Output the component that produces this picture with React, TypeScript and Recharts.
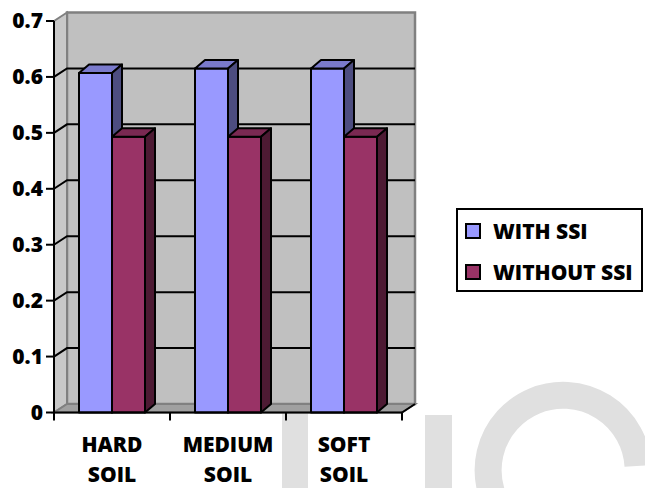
import React from 'react'
import { BarChart, Bar, XAxis, YAxis, CartesianGrid, Legend } from 'recharts'

const CATEGORIES = ['HARD SOIL', 'MEDIUM SOIL', 'SOFT SOIL']
const WITH_SSI = [0.607, 0.615, 0.615]
const WITHOUT_SSI = [0.493, 0.493, 0.493]
const Y_TICKS = [0, 0.1, 0.2, 0.3, 0.4, 0.5, 0.6, 0.7]

const data = CATEGORIES.map((name, i) => ({
  name,
  withSsi: WITH_SSI[i],
  withoutSsi: WITHOUT_SSI[i],
}))

// frame of the 3d box (page pixels)
const W = 645
const H = 488
const PLOT_L = 54
const PLOT_R = 402
const PLOT_T = 21
const PLOT_B = 412.5
const WALL_DX = 13
const WALL_DY = 8.5
const BAR_DX = 10
const BAR_DY = 8.5
const BAND = (PLOT_R - PLOT_L) / CATEGORIES.length
const FONT = "'Open Sans', sans-serif"
const WEIGHT = 800

const Y_AXIS_W = PLOT_L
const X_AXIS_H = 70

const BLUE = { front: '#9999FF', top: '#7A7ACC', side: '#4D4D80' }
const PLUM = { front: '#993366', top: '#7A2952', side: '#4D1A33' }

const box3d = (c: typeof BLUE) => (props: any) => {
  const { x, y, width: w, height: h } = props
  if (!w || !h) return <g />
  const pts = (arr: number[][]) => arr.map((p) => p.join(',')).join(' ')
  return (
    <g stroke="#000" strokeWidth={2} strokeLinejoin="round">
      <rect x={x} y={y} width={w} height={h} fill={c.front} />
      <polygon
        fill={c.top}
        points={pts([[x, y], [x + BAR_DX, y - BAR_DY], [x + w + BAR_DX, y - BAR_DY], [x + w, y]])}
      />
      <polygon
        fill={c.side}
        points={pts([[x + w, y], [x + w + BAR_DX, y - BAR_DY], [x + w + BAR_DX, y + h - BAR_DY], [x + w, y + h]])}
      />
    </g>
  )
}

// grid lines run up the side wall and across the back wall
const gridLine = (p: any) => {
  const { x1, x2, y1, index } = p
  if (Math.abs(y1 - PLOT_T) < 1 || Math.abs(y1 - PLOT_B) < 1) return <g key={`g${index}`} />
  return (
    <polyline
      key={`g${index}`}
      points={`${x1},${y1} ${x1 + WALL_DX},${y1 - WALL_DY} ${x2 + WALL_DX},${y1 - WALL_DY}`}
      fill="none"
      stroke="#000"
      strokeWidth={2}
    />
  )
}

const XTick = (props: any) => {
  const { x, y, payload, index } = props
  const axisY = y - 8
  const words = String(payload.value).split(' ')
  const left = x - BAND / 2
  return (
    <g>
      <line x1={left} y1={axisY} x2={left} y2={axisY + 8} stroke="#000" strokeWidth={2} />
      {index === CATEGORIES.length - 1 && (
        <line x1={left + BAND} y1={axisY} x2={left + BAND} y2={axisY + 8} stroke="#000" strokeWidth={2} />
      )}
      {words.map((wd, i) => (
        <text
          key={wd}
          x={x}
          y={axisY + 39 + i * 30}
          textAnchor="middle"
          fontSize={21}
          fontWeight={WEIGHT}
          fontFamily={FONT}
          fill="#000"
        >
          {wd}
        </text>
      ))}
    </g>
  )
}

const LegendBox = ({ payload }: any) => (
  <div
    style={{
      width: 187,
      height: 84,
      boxSizing: 'border-box',
      border: '2px solid #000',
      background: '#fff',
      padding: '13px 0 0 7px',
      fontFamily: FONT,
      fontWeight: WEIGHT,
      fontSize: 21,
      lineHeight: '16px',
    }}
  >
    {(payload || []).map((item: any) => (
      <div key={item.value} style={{ display: 'flex', alignItems: 'center', height: 16, marginBottom: 25 }}>
        <span
          style={{
            width: 16,
            height: 16,
            boxSizing: 'border-box',
            border: '2px solid #000',
            background: item.color,
            marginRight: 12,
          }}
        />
        <span>{item.value}</span>
      </div>
    ))}
  </div>
)

const Backdrop = () => {
  const wallL = PLOT_L + WALL_DX
  const wallR = PLOT_R + WALL_DX
  const wallT = PLOT_T - WALL_DY
  const wallB = PLOT_B - WALL_DY
  return (
    <svg width={W} height={H} style={{ position: 'absolute', left: 0, top: 0 }}>
      {/* faint watermark shapes */}
      <rect x={282} y={413} width={26} height={80} fill="#E0E0E0" />
      <rect x={425} y={415} width={27} height={80} fill="#E0E0E0" />
      <path d="M 638 466 A 75 75 0 1 0 507 520" fill="none" stroke="#E0E0E0" strokeWidth={27} />
      {/* back wall */}
      <rect x={wallL} y={wallT} width={wallR - wallL} height={wallB - wallT} fill="#C0C0C0" stroke="#808080" strokeWidth={2.5} />
      {/* side wall */}
      <polygon
        points={`${PLOT_L},${PLOT_T} ${wallL},${wallT} ${wallL},${wallB} ${PLOT_L},${PLOT_B}`}
        fill="#C8C8C8"
        stroke="#808080"
        strokeWidth={2}
      />
      {/* floor */}
      <polygon
        points={`${PLOT_L},${PLOT_B} ${PLOT_R},${PLOT_B} ${wallR},${wallB} ${wallL},${wallB}`}
        fill="#A0A0A0"
        stroke="#808080"
        strokeWidth={2}
      />
      <line x1={PLOT_R} y1={PLOT_B} x2={wallR} y2={wallB} stroke="#000" strokeWidth={2} />
    </svg>
  )
}

export default function App() {
  return (
    <div style={{ position: 'absolute', left: 0, top: 0, width: W, height: H, background: '#fff', fontFamily: FONT }}>
      <Backdrop />
      <div style={{ position: 'absolute', left: 0, top: 0 }}>
        <BarChart
          width={W}
          height={H}
          data={data}
          barSize={33}
          barGap={0}
          margin={{ top: PLOT_T, right: W - PLOT_R, bottom: H - PLOT_B - X_AXIS_H, left: 0 }}
        >
          <CartesianGrid vertical={false} horizontal={gridLine} />
          <XAxis
            dataKey="name"
            height={X_AXIS_H}
            interval={0}
            tickLine={false}
            tickSize={8}
            tickMargin={0}
            axisLine={{ stroke: '#000', strokeWidth: 2 }}
            tick={<XTick />}
          />
          <YAxis
            width={Y_AXIS_W}
            domain={[0, 0.7]}
            ticks={Y_TICKS}
            interval={0}
            tickSize={8}
            tickMargin={3}
            tickFormatter={(v: number) => String(v)}
            axisLine={{ stroke: '#000', strokeWidth: 2 }}
            tickLine={{ stroke: '#000', strokeWidth: 2 }}
            tick={{ fill: '#000', fontSize: 21, fontWeight: WEIGHT, fontFamily: FONT }}
          />
          <Legend
            layout="horizontal"
            align="center"
            verticalAlign="middle"
            content={<LegendBox />}
            wrapperStyle={{ left: 456, top: 208, width: 187, height: 84 }}
          />
          <Bar dataKey="withSsi" name="WITH SSI" fill={BLUE.front} shape={box3d(BLUE)} isAnimationActive={false} />
          <Bar dataKey="withoutSsi" name="WITHOUT SSI" fill={PLUM.front} shape={box3d(PLUM)} isAnimationActive={false} />
        </BarChart>
      </div>
    </div>
  )
}
